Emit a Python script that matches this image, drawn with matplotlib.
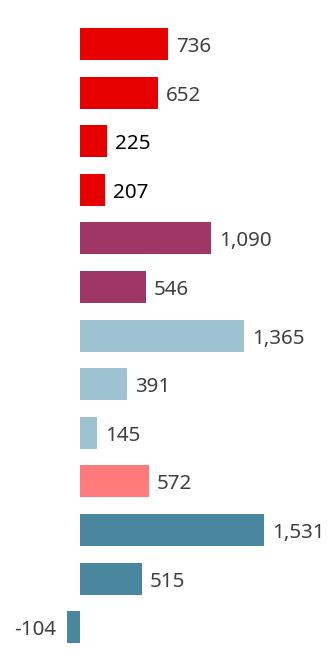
import matplotlib.pyplot as plt

values = [736, 652, 225, 207, 1090, 546, 1365, 391, 145, 572, 1531, 515, -104]
colors = ["#E60000", "#E60000", "#E60000", "#E60000",
          "#9E3765", "#9E3765",
          "#9DC3D3", "#9DC3D3", "#9DC3D3",
          "#FF7B7B",
          "#4A869E", "#4A869E", "#4A869E"]
text_colors = ["#404040", "#404040", "#000000", "#000000"] + ["#404040"] * 9

fig = plt.figure(figsize=(3.3, 6.72), dpi=100)
ax = fig.add_axes([0, 0, 1, 1])

pos = list(range(len(values)))
ax.barh(pos, values, height=0.66, color=colors)

for i, v in enumerate(values):
    label = "{:,}".format(v)
    if v >= 0:
        ax.text(v + 65, i + 0.06, label, va="center", ha="left", fontsize=14.8,
                family="Noto Sans", color=text_colors[i])
    else:
        ax.text(v - 90, i + 0.06, label, va="center", ha="right", fontsize=14.8,
                family="Noto Sans", color=text_colors[i])

ax.set_xlim(-665, 2080)
ax.set_ylim(12.92, -0.905)
ax.axis("off")

fig.savefig("out.png", dpi=100)
